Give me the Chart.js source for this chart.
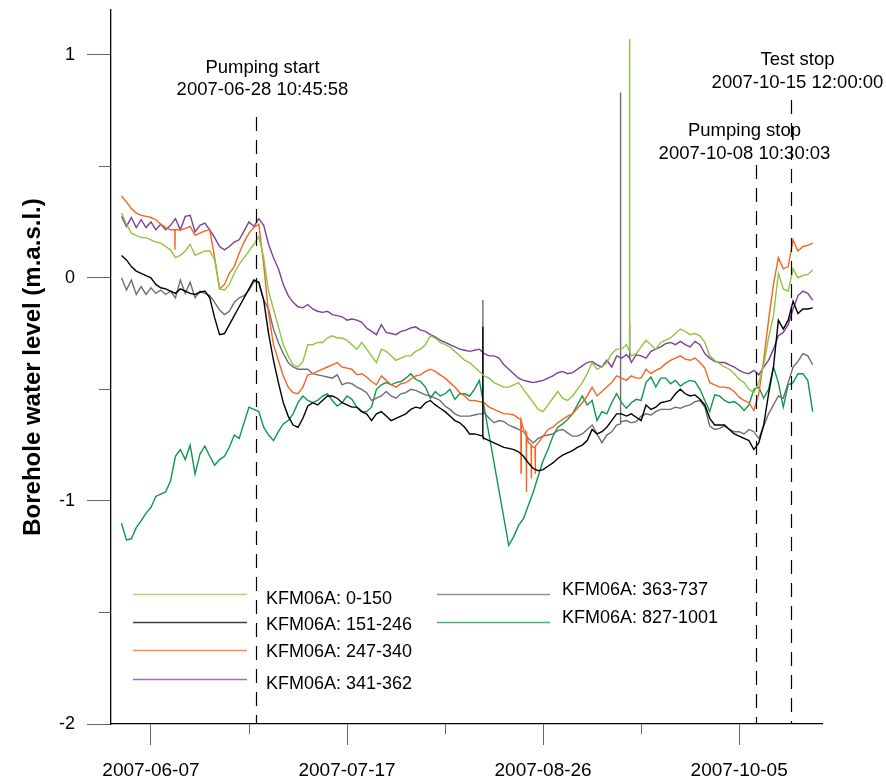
<!DOCTYPE html>
<html>
<head>
<meta charset="utf-8">
<script src="https://cdn.jsdelivr.net/npm/chart.js@4.4.1/dist/chart.umd.min.js"></script>
<style>
  html, body { margin: 0; padding: 0; background: #fff; }
  #wrap { width: 886px; height: 780px; position: relative; }
</style>
</head>
<body>
<div id="wrap"><canvas id="chart" width="886" height="780"></canvas></div>
<script>
// Time is counted in days from 2007-06-07 00:00; one reading per day from day -6.
const firstDay = -6;

const seriesNames = ['KFM06A: 0-150', 'KFM06A: 151-246', 'KFM06A: 247-340',
                     'KFM06A: 341-362', 'KFM06A: 363-737', 'KFM06A: 827-1001'];

const level0_150 = [
  0.29, 0.24, 0.20, 0.19, 0.18, 0.18,
  0.17, 0.16, 0.155, 0.14, 0.125, 0.09, 0.10, 0.12, 0.15, 0.10,
  0.11, 0.12, 0.12, 0.08, -0.05, -0.055, -0.03, 0.02, 0.06, 0.09,
  0.12, 0.15, 0.185, 0.09, -0.06, -0.14, -0.22, -0.30, -0.35, -0.39,
  -0.40, -0.375, -0.30, -0.30, -0.29, -0.29, -0.27, -0.26, -0.27, -0.27,
  -0.28, -0.30, -0.32, -0.29, -0.32, -0.35, -0.38, -0.32, -0.33, -0.35,
  -0.37, -0.36, -0.35, -0.35, -0.33, -0.32, -0.30, -0.26, -0.27, -0.29,
  -0.30, -0.31, -0.33, -0.35, -0.37, -0.38, -0.40, -0.42, -0.44, -0.45,
  -0.47, -0.48, -0.49, -0.49, -0.48, -0.47, -0.50, -0.53, -0.56, -0.59,
  -0.60, -0.57, -0.54, -0.51, -0.54, -0.55, -0.53, -0.50, -0.47, -0.43,
  -0.38, -0.41, -0.40, -0.38, -0.34, -0.32, -0.32, -0.30, -0.35, -0.34,
  -0.31, -0.28, -0.30, -0.32, -0.29, -0.28, -0.27, -0.25, -0.23, -0.24,
  -0.255, -0.25, -0.26, -0.29, -0.35, -0.37, -0.385, -0.40, -0.41, -0.43,
  -0.455, -0.47, -0.50, -0.515, -0.47, -0.39, -0.27, -0.17, 0.02, -0.05,
  -0.06, 0.04, 0.00, 0.01, 0.015, 0.035
];

const level151_246 = [
  0.10, 0.08, 0.05, 0.03, 0.02, 0.01,
  0.0, -0.03, -0.045, -0.05, -0.06, -0.07, -0.05, -0.06, -0.07, -0.075,
  -0.065, -0.06, -0.09, -0.18, -0.255, -0.25, -0.21, -0.17, -0.13, -0.09,
  -0.05, -0.01, -0.02, -0.10, -0.25, -0.37, -0.47, -0.56, -0.62, -0.66,
  -0.67, -0.63, -0.575, -0.56, -0.57, -0.55, -0.53, -0.53, -0.54, -0.56,
  -0.57, -0.58, -0.58, -0.60, -0.61, -0.64, -0.61, -0.60, -0.62, -0.64,
  -0.63, -0.62, -0.61, -0.59, -0.58, -0.585, -0.56, -0.55, -0.57, -0.585,
  -0.60, -0.62, -0.64, -0.65, -0.67, -0.70, -0.70, -0.705, -0.72, -0.73,
  -0.74, -0.75, -0.76, -0.765, -0.77, -0.78, -0.80, -0.83, -0.855, -0.865,
  -0.86, -0.845, -0.83, -0.81, -0.795, -0.785, -0.775, -0.76, -0.75, -0.73,
  -0.68, -0.70, -0.69, -0.67, -0.64, -0.61, -0.61, -0.62, -0.61, -0.625,
  -0.64, -0.57, -0.59, -0.58, -0.56, -0.555, -0.55, -0.52, -0.50, -0.52,
  -0.53, -0.525, -0.545, -0.57, -0.63, -0.66, -0.66, -0.66, -0.68, -0.70,
  -0.71, -0.72, -0.73, -0.77, -0.74, -0.66, -0.52, -0.40, -0.19, -0.23,
  -0.19, -0.105, -0.16, -0.14, -0.14, -0.135
];

const level247_340 = [
  0.365, 0.34, 0.31, 0.29, 0.28, 0.275,
  0.27, 0.26, 0.24, 0.225, 0.215, 0.215, 0.215, 0.22, 0.23, 0.19,
  0.20, 0.21, 0.215, 0.09, -0.05, -0.03, 0.02, 0.05, 0.11, 0.16,
  0.20, 0.225, 0.24, 0.06, -0.16, -0.30, -0.37, -0.44, -0.49, -0.515,
  -0.52, -0.49, -0.435, -0.43, -0.42, -0.41, -0.40, -0.39, -0.38, -0.40,
  -0.405, -0.41, -0.435, -0.43, -0.445, -0.465, -0.48, -0.44, -0.46, -0.48,
  -0.49, -0.475, -0.47, -0.455, -0.44, -0.435, -0.42, -0.41, -0.42, -0.435,
  -0.45, -0.47, -0.49, -0.515, -0.53, -0.55, -0.55, -0.555, -0.56, -0.58,
  -0.59, -0.60, -0.61, -0.61, -0.615, -0.63, -0.68, -0.74, -0.76, -0.74,
  -0.71, -0.68, -0.67, -0.65, -0.635, -0.62, -0.61, -0.585, -0.56, -0.53,
  -0.49, -0.53, -0.51, -0.49, -0.47, -0.44, -0.45, -0.46, -0.44, -0.45,
  -0.45, -0.41, -0.43, -0.415, -0.405, -0.385, -0.37, -0.36, -0.35, -0.365,
  -0.37, -0.36, -0.38, -0.405, -0.47, -0.48, -0.49, -0.49, -0.495, -0.51,
  -0.535, -0.55, -0.56, -0.595, -0.52, -0.37, -0.19, -0.03, 0.09, 0.04,
  0.05, 0.17, 0.12, 0.14, 0.145, 0.155
];

const level341_362 = [
  0.275, 0.23, 0.27, 0.225, 0.26, 0.225,
  0.25, 0.215, 0.24, 0.215, 0.235, 0.265, 0.215, 0.275, 0.28, 0.205,
  0.235, 0.245, 0.215, 0.18, 0.14, 0.125, 0.14, 0.16, 0.17, 0.21,
  0.25, 0.23, 0.265, 0.235, 0.15, 0.09, 0.04, -0.03, -0.08, -0.11,
  -0.13, -0.135, -0.12, -0.14, -0.15, -0.155, -0.15, -0.165, -0.17, -0.175,
  -0.19, -0.185, -0.19, -0.20, -0.225, -0.24, -0.255, -0.21, -0.245, -0.25,
  -0.255, -0.24, -0.235, -0.225, -0.22, -0.235, -0.24, -0.255, -0.265, -0.28,
  -0.29, -0.30, -0.31, -0.32, -0.325, -0.33, -0.325, -0.32, -0.34, -0.35,
  -0.35, -0.36, -0.39, -0.41, -0.43, -0.45, -0.46, -0.465, -0.47, -0.465,
  -0.46, -0.45, -0.44, -0.425, -0.42, -0.43, -0.425, -0.41, -0.395, -0.38,
  -0.375, -0.39, -0.40, -0.37, -0.40, -0.35, -0.36, -0.345, -0.38, -0.345,
  -0.35, -0.36, -0.33, -0.32, -0.31, -0.295, -0.29, -0.30, -0.285, -0.30,
  -0.31, -0.285, -0.30, -0.34, -0.36, -0.375, -0.38, -0.38, -0.39, -0.40,
  -0.415, -0.425, -0.43, -0.415, -0.435, -0.40, -0.37, -0.32, -0.26, -0.245,
  -0.21, -0.14, -0.08, -0.06, -0.07, -0.10
];

const level363_737 = [
  0.0, -0.055, -0.01, -0.075, -0.04, -0.075,
  -0.045, -0.07, -0.055, -0.075, -0.06, -0.09, -0.01, -0.07, -0.02, -0.09,
  -0.06, -0.07, -0.08, -0.11, -0.145, -0.165, -0.15, -0.11, -0.09, -0.08,
  -0.055, -0.017, -0.02, -0.10, -0.14, -0.23, -0.29, -0.34, -0.38, -0.40,
  -0.41, -0.41, -0.41, -0.43, -0.435, -0.44, -0.445, -0.45, -0.435, -0.48,
  -0.47, -0.475, -0.49, -0.50, -0.515, -0.55, -0.54, -0.53, -0.51, -0.53,
  -0.54, -0.52, -0.515, -0.50, -0.505, -0.515, -0.525, -0.53, -0.54, -0.55,
  -0.575, -0.59, -0.61, -0.62, -0.62, -0.62, -0.615, -0.61, -0.605, -0.63,
  -0.65, -0.64, -0.645, -0.66, -0.67, -0.68, -0.69, -0.72, -0.74, -0.72,
  -0.71, -0.705, -0.70, -0.685, -0.68, -0.695, -0.71, -0.71, -0.70, -0.68,
  -0.66, -0.70, -0.74, -0.705, -0.69, -0.66, -0.645, -0.64, -0.65, -0.645,
  -0.62, -0.61, -0.615, -0.60, -0.59, -0.59, -0.59, -0.58, -0.585, -0.575,
  -0.57, -0.555, -0.55, -0.58, -0.665, -0.68, -0.675, -0.665, -0.68, -0.69,
  -0.69, -0.70, -0.68, -0.69, -0.72, -0.665, -0.61, -0.57, -0.53, -0.54,
  -0.47, -0.40, -0.375, -0.34, -0.35, -0.39
];

// null = no logging; the line is carried straight across the gap
const level827_1001 = [
  -1.10, -1.175, -1.17, -1.12, -1.09, -1.055,
  -1.03, -0.98, -0.97, -0.96, -0.91, -0.80, -0.77, -0.815, -0.75, -0.88,
  -0.79, -0.755, -0.80, -0.84, -0.815, -0.80, -0.76, -0.705, -0.72, -0.65,
  -0.58, -0.59, -0.60, -0.67, -0.705, -0.73, -0.69, -0.655, -0.64, -0.61,
  -0.56, -0.53, -0.55, -0.56, -0.55, -0.53, -0.52, -0.55, -0.575, -0.56,
  -0.53, -0.545, -0.58, -0.60, -0.60, -0.58, -0.50, -0.48, -0.47, -0.48,
  -0.47, -0.465, -0.45, -0.43, -0.455, -0.465, -0.49, -0.54, -0.51, -0.53,
  -0.52, -0.50, -0.545, -0.52, -0.52, -0.53, -0.50, -0.46, null, null,
  null, null, null, -1.20, -1.16, -1.11, -1.08, -1.02, -0.96, -0.89,
  -0.82, -0.77, -0.71, -0.67, -0.655, -0.635, -0.61, -0.57, -0.53, -0.57,
  -0.55, -0.64, -0.60, -0.61, -0.56, -0.52, -0.56, -0.585, -0.56, -0.545,
  -0.55, -0.47, -0.445, -0.49, -0.45, -0.45, -0.475, -0.46, -0.485, -0.47,
  -0.46, -0.465, -0.50, -0.55, -0.60, -0.525, -0.53, -0.55, -0.56, -0.555,
  -0.57, -0.595, -0.57, -0.50, -0.49, -0.54, -0.50, -0.40, -0.47, -0.58,
  -0.48, -0.47, -0.43, -0.43, -0.46, -0.60
];

// Short transient readings (day, level) between the daily values
const spikes0_150 = [[97.63, -0.33], [97.65, 1.07], [97.67, -0.33]];
const spikes151_246 = [[67.68, -0.71], [67.7, -0.22], [67.72, -0.712]];
const spikes247_340 = [
  [4.87, 0.215], [4.9, 0.125], [4.93, 0.215],
  [75.45, -0.635], [75.5, -0.875], [75.55, -0.64],
  [76.55, -0.69], [76.6, -0.96], [76.65, -0.70],
  [77.55, -0.745], [77.6, -0.90], [77.65, -0.75],
  [78.35, -0.76], [78.4, -0.88], [78.45, -0.755]
];
const spikes341_362 = [[97.63, -0.36], [97.65, -0.20], [97.67, -0.36]];
const spikes363_737 = [[67.68, -0.61], [67.7, -0.10], [67.72, -0.608],
                       [95.78, -0.655], [95.8, 0.83], [95.82, -0.65]];
const spikes827_1001 = [];

const seriesColors = ['#8dc63f', '#000000', '#f26522', '#7f3f98', '#6d6e71', '#0b9a4b'];

// Axis ticks
const majorDays = [0, 40, 80, 120];
const minorDays = [20, 60, 100];
const majorLevels = [-2, -1, 0, 1];
const minorLevels = [-1.5, -0.5, 0.5];

// Test events
const eventDays = [21 + (10 + 45 / 60 + 58 / 3600) / 24,
                   123 + (10 + 30 / 60 + 3 / 3600) / 24,
                   130 + 12 / 24];
const eventTitles = ['Pumping start', 'Pumping stop', 'Test stop'];
const eventStamps = ['2007-06-28 10:45:58', '2007-10-08 10:30:03', '2007-10-15 12:00:00'];

// ---------------------------------------------------------------------------

const FONT = '"Liberation Sans", Arial, Helvetica, sans-serif';
Chart.defaults.font.family = FONT;
Chart.defaults.color = '#000';

function dayLabel(d) {
  const t = new Date(Date.UTC(2007, 5, 7) + Math.round(d * 86400000));
  return t.toISOString().slice(0, 10);
}

function buildPoints(values, extra) {
  const pts = values.map((v, i) => ({ x: firstDay + i, y: v }));
  extra.forEach(p => pts.push({ x: p[0], y: p[1] }));
  pts.sort((a, b) => a.x - b.x);
  return pts;
}

const allValues = [level0_150, level151_246, level247_340, level341_362, level363_737, level827_1001];
const allSpikes = [spikes0_150, spikes151_246, spikes247_340, spikes341_362, spikes363_737, spikes827_1001];

const datasets = allValues.map((vals, i) => ({
  label: seriesNames[i],
  data: buildPoints(vals, allSpikes[i]),
  borderColor: seriesColors[i],
  backgroundColor: seriesColors[i],
  borderWidth: 1.4,
  pointRadius: 0,
  pointHoverRadius: 0,
  tension: 0,
  spanGaps: true,
  fill: false
}));

// Minor tick marks on both axes
const minorTicks = {
  id: 'minorTicks',
  afterDraw(chart) {
    const { ctx, scales: { x, y }, chartArea } = chart;
    ctx.save();
    ctx.strokeStyle = '#666';
    ctx.lineWidth = 1;
    ctx.beginPath();
    minorDays.forEach(d => {
      const px = Math.round(x.getPixelForValue(d)) + 0.5;
      ctx.moveTo(px, chartArea.bottom);
      ctx.lineTo(px, chartArea.bottom + 10);
    });
    minorLevels.forEach(v => {
      const py = Math.round(y.getPixelForValue(v)) + 0.5;
      ctx.moveTo(chartArea.left, py);
      ctx.lineTo(chartArea.left - 12, py);
    });
    ctx.stroke();
    ctx.restore();
  }
};

// Dashed event markers with their captions
const eventLayout = [
  { lineTop: 117, dx: 6, y1: 68, y2: 90 },
  { lineTop: 165, dx: -12, y1: 131, y2: 154 },
  { lineTop: 100, dx: 6, y1: 60, y2: 83 }
];
const eventMarkers = {
  id: 'eventMarkers',
  afterDatasetsDraw(chart) {
    const { ctx, scales: { x }, chartArea } = chart;
    ctx.save();
    eventDays.forEach((d, i) => {
      const px = Math.round(x.getPixelForValue(d)) + 0.5;
      const L = eventLayout[i];
      ctx.strokeStyle = '#000';
      ctx.lineWidth = 1.2;
      ctx.setLineDash([14, 9]);
      ctx.beginPath();
      ctx.moveTo(px, L.lineTop);
      ctx.lineTo(px, chartArea.bottom);
      ctx.stroke();
      ctx.setLineDash([]);
      ctx.fillStyle = '#000';
      ctx.font = '18.5px ' + FONT;
      ctx.textAlign = 'center';
      ctx.textBaseline = 'middle';
      ctx.fillText(eventTitles[i], px + L.dx, L.y1);
      ctx.fillText(eventStamps[i], px + L.dx, L.y2);
    });
    ctx.restore();
  }
};

// Legend inside the plot area, two columns
const legendLayout = [
  { x1: 133, x2: 247, ly: 594, tx: 266, ty: 599 },
  { x1: 133, x2: 247, ly: 622, tx: 266, ty: 625 },
  { x1: 133, x2: 247, ly: 650, tx: 266, ty: 652 },
  { x1: 133, x2: 247, ly: 679, tx: 266, ty: 684 },
  { x1: 437, x2: 550, ly: 594, tx: 562, ty: 590 },
  { x1: 437, x2: 550, ly: 622, tx: 562, ty: 618 }
];
const insideLegend = {
  id: 'insideLegend',
  afterDraw(chart) {
    const { ctx } = chart;
    ctx.save();
    chart.data.datasets.forEach((ds, i) => {
      const L = legendLayout[i];
      ctx.strokeStyle = ds.borderColor;
      ctx.globalAlpha = 0.75;
      ctx.lineWidth = 1.3;
      ctx.beginPath();
      ctx.moveTo(L.x1, L.ly + 0.5);
      ctx.lineTo(L.x2, L.ly + 0.5);
      ctx.stroke();
      ctx.globalAlpha = 1;
      ctx.fillStyle = '#000';
      ctx.font = '18px ' + FONT;
      ctx.textAlign = 'left';
      ctx.textBaseline = 'middle';
      ctx.fillText(ds.label, L.tx, L.ty);
    });
    ctx.restore();
  }
};

new Chart(document.getElementById('chart'), {
  type: 'line',
  data: { datasets },
  plugins: [minorTicks, eventMarkers, insideLegend],
  options: {
    responsive: false,
    animation: false,
    events: [],
    layout: { padding: { top: 10, right: 64, left: 0, bottom: 0 } },
    plugins: { legend: { display: false }, tooltip: { enabled: false } },
    scales: {
      x: {
        type: 'linear',
        min: -8.15,
        max: 136.9,
        afterBuildTicks: s => { s.ticks = majorDays.map(v => ({ value: v })); },
        afterFit: s => { s.height = 56; s.paddingLeft = 0; s.paddingRight = 0; },
        ticks: {
          callback: v => dayLabel(v),
          font: { size: 19, family: FONT },
          color: '#000',
          padding: 14,
          maxRotation: 0,
          autoSkip: false
        },
        grid: { display: true, drawOnChartArea: false, drawTicks: true, tickLength: 21, color: '#666', lineWidth: 1 },
        border: { display: true, color: '#000', width: 1.3 }
      },
      y: {
        type: 'linear',
        min: -2,
        max: 1.2,
        afterBuildTicks: s => { s.ticks = majorLevels.map(v => ({ value: v })); },
        afterFit: s => { s.width = 111; s.paddingTop = 0; s.paddingBottom = 0; },
        ticks: {
          callback: v => String(v),
          font: { size: 18, family: FONT },
          color: '#000',
          padding: 12
        },
        grid: { display: true, drawOnChartArea: false, drawTicks: true, tickLength: 24, color: '#666', lineWidth: 1 },
        border: { display: true, color: '#000', width: 1.3 },
        title: {
          display: true,
          text: 'Borehole water level (m.a.s.l.)',
          font: { size: 24, weight: 'bold', family: FONT },
          color: '#000',
          padding: { top: 19, bottom: 0 }
        }
      }
    }
  }
});
</script>
</body>
</html>
